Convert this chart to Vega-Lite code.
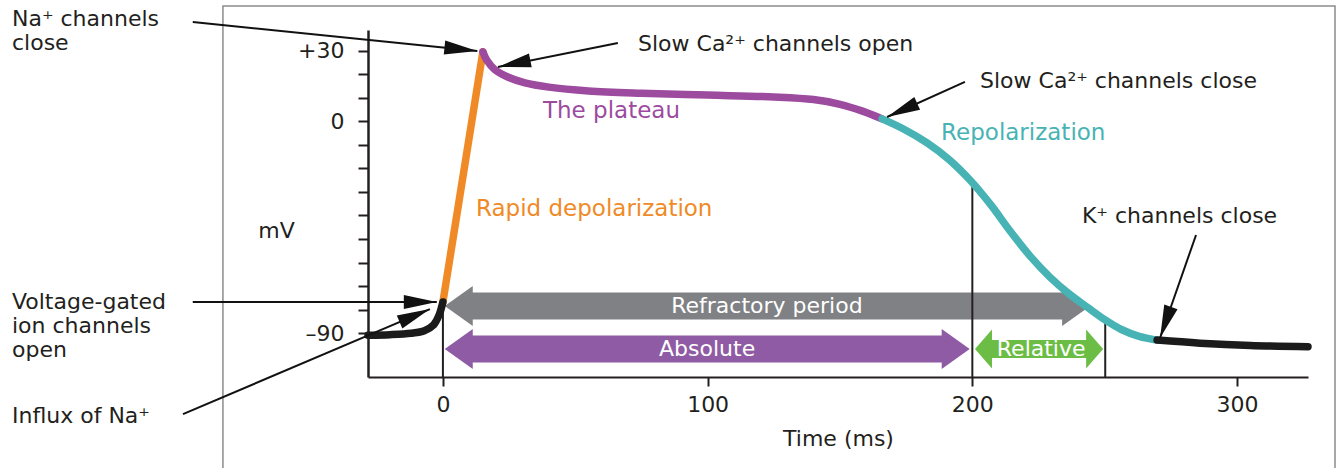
{
  "$schema": "https://vega.github.io/schema/vega-lite/v6.json",
  "width": 940,
  "height": 347,
  "autosize": {"type": "none"},
  "padding": {"left": 368, "top": 30, "right": 32, "bottom": 91},
  "background": "white",
  "config": {"view": {"stroke": null}, "font": "DejaVu Sans"},
  "datasets": {
    "frame": [{"t": -83.1, "t2": 337.0, "v": 49.1, "v2": -150}],
    "curve": [
      {"kind": "rest", "t": -28.3, "v": -90.9},
      {"kind": "rest", "t": -20, "v": -90.7},
      {"kind": "rest", "t": -12, "v": -90.1},
      {"kind": "rest", "t": -7, "v": -89.0},
      {"kind": "rest", "t": -3.5, "v": -86.5},
      {"kind": "rest", "t": -1.5, "v": -82.5},
      {"kind": "rest", "t": 0, "v": -76.8},
      {"kind": "depolarization", "t": 0, "v": -76.8},
      {"kind": "depolarization", "t": 15.1, "v": 29.6},
      {"kind": "plateau", "t": 15.1, "v": 29.6},
      {"kind": "plateau", "t": 16.6, "v": 26.0},
      {"kind": "plateau", "t": 19.5, "v": 22.2},
      {"kind": "plateau", "t": 24.5, "v": 18.9},
      {"kind": "plateau", "t": 31.0, "v": 16.4},
      {"kind": "plateau", "t": 40.0, "v": 14.6},
      {"kind": "plateau", "t": 55.0, "v": 13.0},
      {"kind": "plateau", "t": 75.0, "v": 12.0},
      {"kind": "plateau", "t": 100.0, "v": 11.2},
      {"kind": "plateau", "t": 125.0, "v": 10.4},
      {"kind": "plateau", "t": 140.0, "v": 9.3},
      {"kind": "plateau", "t": 150.0, "v": 7.3},
      {"kind": "plateau", "t": 158.5, "v": 4.4},
      {"kind": "plateau", "t": 165.9, "v": 1.1},
      {"kind": "repolarization", "t": 165.9, "v": 1.1},
      {"kind": "repolarization", "t": 174.0, "v": -3.2},
      {"kind": "repolarization", "t": 182.9, "v": -9.1},
      {"kind": "repolarization", "t": 191.0, "v": -16.0},
      {"kind": "repolarization", "t": 199.1, "v": -24.9},
      {"kind": "repolarization", "t": 207.0, "v": -35.5},
      {"kind": "repolarization", "t": 214.2, "v": -46.5},
      {"kind": "repolarization", "t": 222.0, "v": -57.5},
      {"kind": "repolarization", "t": 229.3, "v": -66.2},
      {"kind": "repolarization", "t": 236.5, "v": -73.3},
      {"kind": "repolarization", "t": 243.3, "v": -78.9},
      {"kind": "repolarization", "t": 250.0, "v": -84.3},
      {"kind": "repolarization", "t": 256.5, "v": -88.6},
      {"kind": "repolarization", "t": 263.0, "v": -91.4},
      {"kind": "repolarization", "t": 269.8, "v": -93.0},
      {"kind": "recovery", "t": 269.8, "v": -93.0},
      {"kind": "recovery", "t": 286, "v": -94.3},
      {"kind": "recovery", "t": 305, "v": -95.3},
      {"kind": "recovery", "t": 326.8, "v": -95.8}
    ],
    "bands": [
      {"kind": "Refractory period", "t": 0.7, "t2": 244.5, "v": -78.5},
      {"kind": "Absolute", "t": 0.7, "t2": 199.0, "v": -96.8},
      {"kind": "Relative", "t": 201.0, "t2": 249.4, "v": -96.8}
    ],
    "dividers": [
      {"t": 0, "v": -108.7, "v2": -76.8},
      {"t": 200, "v": -108.7, "v2": -27.5},
      {"t": 250.2, "v": -108.7, "v2": -85.7}
    ],
    "pointers": [
      {"t": -94.5, "v": 42.3, "t2": 13.0, "v2": 30.0},
      {"t": 66.1, "v": 33.4, "t2": 20.8, "v2": 23.2},
      {"t": 197.2, "v": 16.8, "t2": 167.8, "v2": 1.9},
      {"t": 284.5, "v": -48.3, "t2": 270.9, "v2": -92.1},
      {"t": -94.5, "v": -76.8, "t2": -2.3, "v2": -76.8},
      {"t": -98.2, "v": -124.5, "t2": -4.9, "v2": -79.8}
    ],
    "notes": [
      {"label": "Na⁺ channels\nclose", "t": -162.8, "v": 40.6},
      {"label": "Slow Ca²⁺ channels open", "t": 73.7, "v": 30.0},
      {"label": "Slow Ca²⁺ channels close", "t": 202.9, "v": 14.3},
      {"label": "K⁺ channels close", "t": 241.4, "v": -43.2},
      {"label": "Voltage-gated\nion channels\nopen", "t": -162.8, "v": -79.8},
      {"label": "Influx of Na⁺", "t": -162.8, "v": -128.3}
    ],
    "phaseLabels": [
      {"label": "The plateau", "kind": "plateau", "t": 37.8, "v": 1.5},
      {"label": "Rapid depolarization", "kind": "depolarization", "t": 12.5, "v": -40.2},
      {"label": "Repolarization", "kind": "repolarization", "t": 188.2, "v": -7.9}
    ],
    "bandLabels": [
      {"label": "Refractory period", "t": 122.4, "v": -78.5},
      {"label": "Absolute", "t": 99.8, "v": -96.8},
      {"label": "Relative", "t": 226, "v": -96.8}
    ]
  },
  "encoding": {
    "x": {
      "field": "t", "type": "quantitative", "title": "Time (ms)",
      "scale": {"domain": [-28.3, 326.8], "nice": false, "zero": false},
      "axis": {
        "title": "Time (ms)", "values": [0, 100, 200, 300], "grid": false,
        "domainColor": "#231F20", "domainWidth": 2, "tickColor": "#231F20", "tickWidth": 2, "tickSize": 9,
        "labelFont": "DejaVu Sans", "labelFontSize": 22, "labelColor": "#231F20", "labelPadding": 8,
        "labelFlush": false, "labelOverlap": false,
        "titleFont": "DejaVu Sans", "titleFontSize": 22, "titleFontWeight": "normal", "titleColor": "#231F20",
        "titleBaseline": "alphabetic", "titleY": 68
      }
    },
    "y": {
      "field": "v", "type": "quantitative", "title": "mV",
      "scale": {"domain": [-108.7, 38.9], "nice": false, "zero": false},
      "axis": {
        "title": "mV", "values": [-90, -80, -70, -60, -50, -40, -30, -20, -10, 0, 10, 20, 30],
        "labelExpr": "datum.value == 30 ? '+30' : datum.value == 0 ? '0' : datum.value == -90 ? '–90' : ''",
        "grid": false, "domainColor": "#231F20", "domainWidth": 2.5, "tickColor": "#231F20", "tickWidth": 2, "tickSize": 10,
        "labelFont": "DejaVu Sans", "labelFontSize": 22, "labelColor": "#231F20", "labelPadding": 14,
        "labelOverlap": false, "labelFlush": false,
        "titleFont": "DejaVu Sans", "titleFontSize": 22, "titleFontWeight": "normal", "titleColor": "#231F20",
        "titleAngle": 0, "titleAlign": "center", "titleBaseline": "alphabetic", "titleX": -92, "titleY": 207
      }
    }
  },
  "layer": [
    {
      "data": {"name": "frame"},
      "mark": {"type": "rect", "filled": false, "color": "#8c8c8c", "strokeWidth": 1.5},
      "encoding": {"x2": {"field": "t2"}, "y2": {"field": "v2"}}
    },
    {
      "data": {"name": "bands"},
      "transform": [{"filter": "datum.kind !== 'Relative'"}],
      "mark": {"type": "rule", "strokeWidth": 27, "strokeCap": "butt", "xOffset": 26, "x2Offset": -26},
      "encoding": {
        "x2": {"field": "t2"},
        "color": {"field": "kind", "type": "nominal", "legend": null,
          "scale": {"domain": ["rest", "depolarization", "plateau", "repolarization", "recovery", "Refractory period", "Absolute", "Relative"],
                    "range": ["#1b1b1b", "#F08A26", "#9C4B9F", "#48B3B4", "#1b1b1b", "#808184", "#8F5BA4", "#6CBD45"]}}
      }
    },
    {
      "data": {"name": "bands"},
      "transform": [{"filter": "datum.kind === 'Relative'"}],
      "mark": {"type": "rule", "strokeWidth": 18, "strokeCap": "butt", "xOffset": 16, "x2Offset": -16},
      "encoding": {
        "x2": {"field": "t2"},
        "color": {"field": "kind", "type": "nominal", "legend": null}
      }
    },
    {
      "data": {"name": "bands"},
      "transform": [{"filter": "datum.kind !== 'Relative'"}],
      "mark": {"type": "point", "shape": "M0,0L2,-1.43L2,1.43Z", "size": 784, "filled": true, "opacity": 1, "strokeWidth": 0},
      "encoding": {"color": {"field": "kind", "type": "nominal", "legend": null}}
    },
    {
      "data": {"name": "bands"},
      "transform": [{"filter": "datum.kind !== 'Relative'"}],
      "mark": {"type": "point", "shape": "M0,0L-2,-1.43L-2,1.43Z", "size": 784, "filled": true, "opacity": 1, "strokeWidth": 0},
      "encoding": {
        "x": {"field": "t2", "type": "quantitative", "title": "Time (ms)", "scale": {"domain": [-28.3, 326.8], "nice": false, "zero": false}},
        "color": {"field": "kind", "type": "nominal", "legend": null}
      }
    },
    {
      "data": {"name": "bands"},
      "transform": [{"filter": "datum.kind === 'Relative'"}],
      "mark": {"type": "point", "shape": "M0,0L2,-2.3L2,2.3Z", "size": 289, "filled": true, "opacity": 1, "strokeWidth": 0},
      "encoding": {"color": {"field": "kind", "type": "nominal", "legend": null}}
    },
    {
      "data": {"name": "bands"},
      "transform": [{"filter": "datum.kind === 'Relative'"}],
      "mark": {"type": "point", "shape": "M0,0L-2,-2.3L-2,2.3Z", "size": 289, "filled": true, "opacity": 1, "strokeWidth": 0},
      "encoding": {
        "x": {"field": "t2", "type": "quantitative", "title": "Time (ms)", "scale": {"domain": [-28.3, 326.8], "nice": false, "zero": false}},
        "color": {"field": "kind", "type": "nominal", "legend": null}
      }
    },
    {
      "data": {"name": "bandLabels"},
      "mark": {"type": "text", "align": "center", "baseline": "middle", "font": "DejaVu Sans", "fontSize": 22, "color": "white"},
      "encoding": {"text": {"field": "label"}}
    },
    {
      "data": {"name": "dividers"},
      "mark": {"type": "rule", "color": "#231F20", "strokeWidth": 2},
      "encoding": {"y2": {"field": "v2"}}
    },
    {
      "data": {"name": "curve"},
      "transform": [{"filter": "datum.kind === 'depolarization'"}],
      "mark": {"type": "line", "strokeWidth": 7.5, "strokeCap": "round", "strokeJoin": "round"},
      "encoding": {"color": {"field": "kind", "type": "nominal", "legend": null}}
    },
    {
      "data": {"name": "curve"},
      "transform": [{"filter": "datum.kind !== 'depolarization'"}],
      "mark": {"type": "line", "strokeWidth": 7.5, "strokeCap": "round", "strokeJoin": "round", "interpolate": "catmull-rom"},
      "encoding": {"color": {"field": "kind", "type": "nominal", "legend": null}}
    },
    {
      "data": {"name": "pointers"},
      "mark": {"type": "rule", "color": "#111111", "strokeWidth": 2},
      "encoding": {"x2": {"field": "t2"}, "y2": {"field": "v2"}}
    },
    {
      "data": {"name": "pointers"},
      "transform": [{"calculate": "atan2(-(datum.v2 - datum.v) * 2.351, (datum.t2 - datum.t) * 2.647) * 180 / PI", "as": "ang"}],
      "mark": {"type": "point", "shape": "M0,0L-2.2,-0.47L-2.2,0.47Z", "size": 900, "filled": true, "opacity": 1, "color": "#111111", "strokeWidth": 0},
      "encoding": {
        "x": {"field": "t2", "type": "quantitative", "title": "Time (ms)", "scale": {"domain": [-28.3, 326.8], "nice": false, "zero": false}},
        "y": {"field": "v2", "type": "quantitative", "title": "mV", "scale": {"domain": [-108.7, 38.9], "nice": false, "zero": false}},
        "angle": {"field": "ang", "type": "quantitative", "scale": null}
      }
    },
    {
      "data": {"name": "notes"},
      "mark": {"type": "text", "align": "left", "baseline": "alphabetic", "font": "DejaVu Sans", "fontSize": 22, "lineBreak": "\n", "lineHeight": 24, "color": "#231F20"},
      "encoding": {"text": {"field": "label"}}
    },
    {
      "data": {"name": "phaseLabels"},
      "mark": {"type": "text", "align": "left", "baseline": "alphabetic", "font": "DejaVu Sans", "fontSize": 23},
      "encoding": {
        "text": {"field": "label"},
        "color": {"field": "kind", "type": "nominal", "legend": null}
      }
    }
  ]
}
